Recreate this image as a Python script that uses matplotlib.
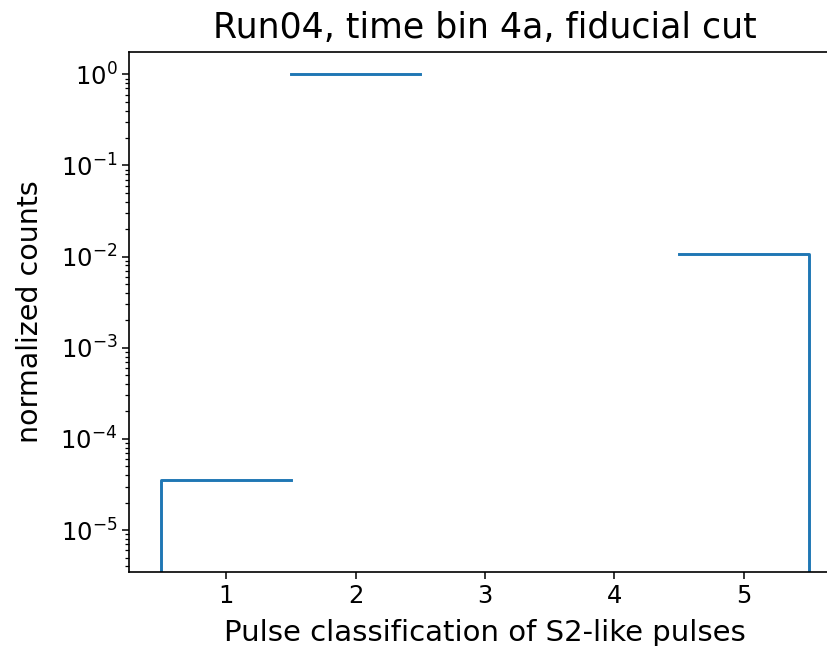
import numpy as np
import matplotlib
matplotlib.use("Agg")
import matplotlib.pyplot as plt

# pulse classes and normalized counts per class
classes = [1, 2, 3, 4, 5]
counts = [3.5e-5, 1.0, 0.0, 0.0, 1.06e-2]
edges = np.arange(0.5, 6.0, 1.0)

title = "Run04, time bin 4a, fiducial cut"
xlabel = "Pulse classification of S2-like pulses"
ylabel = "normalized counts"

fig = plt.figure(figsize=(8.28, 6.46), dpi=100)
ax = fig.add_axes([129 / 828, 1 - 572 / 646, 712 / 828, 520 / 646])

# build the step outline, broken where a bin is empty
floor = 1e-12
xs, ys = [], []
for i, c in enumerate(counts):
    if c <= 0:
        continue
    seg_x = [edges[i], edges[i + 1]]
    seg_y = [c, c]
    if i == 0:
        seg_x = [edges[i]] + seg_x
        seg_y = [floor] + seg_y
    if i == len(counts) - 1:
        seg_x = seg_x + [edges[i + 1]]
        seg_y = seg_y + [floor]
    xs += seg_x + [np.nan]
    ys += seg_y + [np.nan]

ax.plot(xs, ys, color="#1f77b4", lw=2.1)

ax.set_yscale("log")
ax.set_xlim(0.25, 5.75)
ax.set_ylim(10 ** -5.46, 10 ** 0.245)
ax.set_xticks(classes)

for s in ax.spines.values():
    s.set_linewidth(1.2)
ax.tick_params(which="major", labelsize=17.5, length=4.8, width=1.1)
ax.tick_params(which="minor", length=2.7, width=0.9)

ax.set_title(title, fontsize=25, pad=10)
ax.set_xlabel(xlabel, fontsize=21, labelpad=8)
ax.set_ylabel(ylabel, fontsize=20.5, labelpad=12)

fig.savefig("out.png", dpi=100)
